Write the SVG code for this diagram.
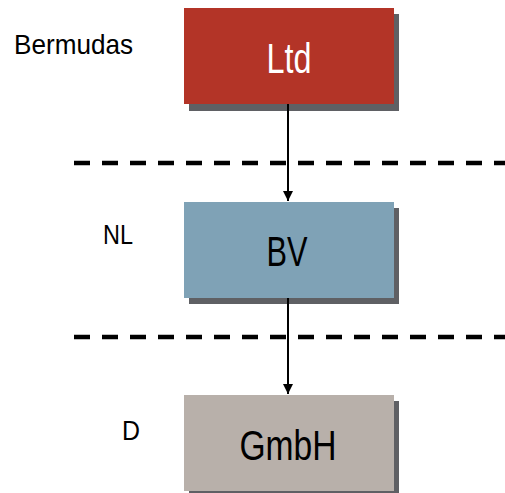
<svg xmlns="http://www.w3.org/2000/svg" width="505" height="493" viewBox="0 0 505 493">
<style>
.shadow{fill:#5f6064}
.lbl{font-family:"Liberation Sans Narrow","Arial Narrow","Liberation Sans",sans-serif;font-size:28px;fill:#000}
.big{font-family:"Liberation Sans Narrow","Arial Narrow","Liberation Sans",sans-serif;font-size:43px;text-anchor:middle}
.dash{stroke:#000;stroke-width:4.5;stroke-dasharray:16 12;fill:none}
.conn{stroke:#000;stroke-width:2;fill:none}
</style>
<defs>
<marker id="ah" viewBox="0 0 10 10" refX="10" refY="5" markerWidth="10" markerHeight="10" markerUnits="userSpaceOnUse" orient="auto">
<path d="M0,0 L10,5 L0,10 Z" fill="#000"/>
</marker>
</defs>
<rect width="505" height="493" fill="#fff"/>
<g id="separators">
<line class="dash" x1="74" y1="163" x2="505" y2="163"/>
<line class="dash" x1="74" y1="337" x2="505" y2="337"/>
</g>
<g id="labels">
<text class="lbl" x="14" y="54" textLength="119" lengthAdjust="spacingAndGlyphs">Bermudas</text>
<text class="lbl" x="103" y="244" textLength="30" lengthAdjust="spacingAndGlyphs">NL</text>
<text class="lbl" x="122" y="440" textLength="18" lengthAdjust="spacingAndGlyphs">D</text>
</g>
<g id="node-ltd">
<rect class="shadow" x="189" y="14" width="210" height="97"/>
<rect x="184" y="8" width="210" height="96" fill="#b33427"/>
<text class="big" x="289" y="73" fill="#fff" textLength="45" lengthAdjust="spacingAndGlyphs">Ltd</text>
</g>
<g id="node-bv">
<rect class="shadow" x="189" y="208" width="210" height="96"/>
<rect x="184" y="202" width="210" height="96" fill="#7fa2b6"/>
<text class="big" x="287" y="266" fill="#000" textLength="41" lengthAdjust="spacingAndGlyphs">BV</text>
</g>
<g id="node-gmbh">
<rect class="shadow" x="189" y="401" width="210" height="96"/>
<rect x="184" y="395" width="210" height="96" fill="#b8b0aa"/>
<text class="big" x="288" y="460" fill="#000" textLength="97" lengthAdjust="spacingAndGlyphs">GmbH</text>
</g>
<g id="connectors">
<line class="conn" x1="288" y1="104" x2="288" y2="201" marker-end="url(#ah)"/>
<line class="conn" x1="288" y1="298" x2="288" y2="394" marker-end="url(#ah)"/>
</g>
</svg>
